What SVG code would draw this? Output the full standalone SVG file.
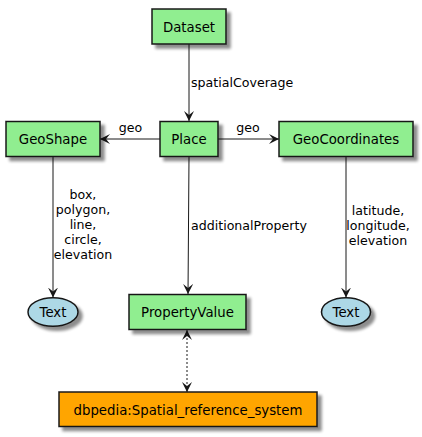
<svg xmlns="http://www.w3.org/2000/svg" width="422" height="437" viewBox="0 0 422 437">
<style>
.n{stroke:#181818;stroke-width:1.5}
.g{fill:#90EE90}
.b{fill:#ADD8E6}
.o{fill:#FFA500}
.t{font-family:"DejaVu Sans",sans-serif;font-size:13.3px;fill:#000;text-anchor:middle}
.l{font-family:"DejaVu Sans",sans-serif;font-size:12.6px;fill:#000}
.c{stroke:#181818;stroke-width:1;fill:none}
.d{stroke-dasharray:2,2}
</style>
<defs>
<filter id="sh" x="-20%" y="-20%" width="150%" height="160%">
<feGaussianBlur in="SourceAlpha" stdDeviation="1.8"/>
<feOffset dx="4" dy="4" result="b"/>
<feComponentTransfer><feFuncA type="linear" slope="0.45"/></feComponentTransfer>
<feMerge><feMergeNode/><feMergeNode in="SourceGraphic"/></feMerge>
</filter>
<marker id="ar" viewBox="0 0 10 10" refX="10" refY="5" markerWidth="10" markerHeight="10" markerUnits="userSpaceOnUse" orient="auto-start-reverse">
<path d="M10,5 L0,0 L4,5 L0,10 Z" fill="#181818"/>
</marker>
</defs>
<g id="connectors">
<line class="c" x1="189" y1="44" x2="189" y2="121" marker-end="url(#ar)"/>
<line class="c" x1="160" y1="139" x2="100" y2="139" marker-end="url(#ar)"/>
<line class="c" x1="218" y1="139" x2="279" y2="139" marker-end="url(#ar)"/>
<line class="c" x1="53" y1="157" x2="53" y2="297.5" marker-end="url(#ar)"/>
<line class="c" x1="346" y1="157" x2="346" y2="297.5" marker-end="url(#ar)"/>
<line class="c" x1="189" y1="157" x2="188" y2="294" marker-end="url(#ar)"/>
<line class="c d" x1="187" y1="330" x2="187" y2="392" marker-start="url(#ar)" marker-end="url(#ar)"/>
<text class="l" x="191" y="87">spatialCoverage</text>
<text class="l" x="130.5" y="132" text-anchor="middle">geo</text>
<text class="l" x="248" y="132" text-anchor="middle">geo</text>
<text class="l" x="191" y="230">additionalProperty</text>
<text class="l" text-anchor="middle"><tspan x="83" y="199">box,</tspan><tspan x="83" y="214">polygon,</tspan><tspan x="83" y="229">line,</tspan><tspan x="83" y="244">circle,</tspan><tspan x="83" y="259">elevation</tspan></text>
<text class="l" text-anchor="middle"><tspan x="378" y="215">latitude,</tspan><tspan x="378" y="230">longitude,</tspan><tspan x="378" y="245">elevation</tspan></text>
</g>
<g id="Dataset"><rect class="n g" x="152" y="9" width="74" height="35" filter="url(#sh)"/><text class="t" x="189" y="31.5">Dataset</text></g>
<g id="Place"><rect class="n g" x="160" y="121.5" width="58" height="35" filter="url(#sh)"/><text class="t" x="189" y="144">Place</text></g>
<g id="GeoShape"><rect class="n g" x="6" y="121.5" width="94" height="35" filter="url(#sh)"/><text class="t" x="53" y="144">GeoShape</text></g>
<g id="GeoCoordinates"><rect class="n g" x="279" y="121.5" width="134" height="35" filter="url(#sh)"/><text class="t" x="346" y="144">GeoCoordinates</text></g>
<g id="Text1"><ellipse class="n b" cx="53" cy="312" rx="25" ry="14.3" filter="url(#sh)"/><text class="t" x="53" y="317">Text</text></g>
<g id="Text2"><ellipse class="n b" cx="346" cy="312" rx="24.5" ry="14.3" filter="url(#sh)"/><text class="t" x="346" y="317">Text</text></g>
<g id="PropertyValue"><rect class="n g" x="129" y="294.5" width="117" height="35" filter="url(#sh)"/><text class="t" x="187.5" y="317">PropertyValue</text></g>
<g id="SpatialRef"><rect class="n o" x="59" y="392" width="258" height="34.5" filter="url(#sh)"/><text class="t" x="188" y="414.5">dbpedia:Spatial_reference_system</text></g>
</svg>
